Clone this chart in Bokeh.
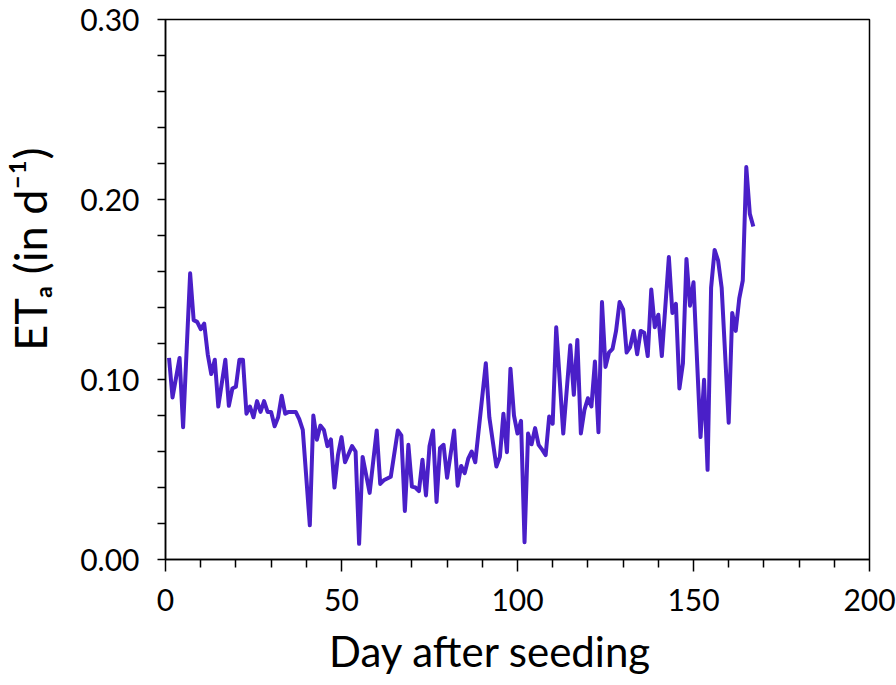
from bokeh.plotting import figure
from bokeh.models import Range1d, FixedTicker, PrintfTickFormatter
from bokeh.embed import file_html
from bokeh.resources import INLINE

# Data
days = [1, 2, 4, 5, 7, 8, 9, 10, 11, 12, 13, 14, 15, 17, 18, 19, 20, 21, 22, 23,
        24, 25, 26, 27, 28, 29, 30, 31, 32, 33, 34, 35, 37, 38, 39, 41, 42, 43, 44, 45,
        46, 47, 48, 49, 50, 51, 53, 54, 55, 56, 58, 60, 61, 62, 64, 66, 67, 68, 69, 70,
        71, 72, 73, 74, 75, 76, 77, 78, 79, 80, 82, 83, 84, 85, 86, 87, 88, 91, 92, 94,
        95, 96, 97, 98, 99, 100, 101, 102, 103, 104, 105, 106, 107, 108, 109, 110, 111, 113, 115, 116,
        117, 118, 119, 120, 121, 122, 123, 124, 125, 126, 127, 128, 129, 130, 131, 132, 133, 134, 135, 136,
        137, 138, 139, 140, 141, 143, 144, 145, 146, 147, 148, 149, 150, 152, 153, 154, 155, 156, 157, 158,
        160, 161, 162, 163, 164, 165, 166, 167]
eta = [0.112, 0.090, 0.112, 0.0735, 0.159, 0.133, 0.132, 0.128, 0.131, 0.114, 0.103, 0.111, 0.085, 0.111, 0.0854, 0.095, 0.096, 0.111, 0.111, 0.081,
       0.085, 0.079, 0.088, 0.082, 0.088, 0.082, 0.082, 0.074, 0.079, 0.091, 0.081, 0.082, 0.082, 0.078, 0.072, 0.019, 0.080, 0.0665, 0.0744, 0.072,
       0.063, 0.0667, 0.040, 0.058, 0.068, 0.054, 0.063, 0.060, 0.0087, 0.057, 0.037, 0.0717, 0.042, 0.044, 0.046, 0.0717, 0.069, 0.027, 0.0637, 0.0405,
       0.040, 0.038, 0.0554, 0.0356, 0.063, 0.0717, 0.032, 0.062, 0.0637, 0.0454, 0.0717, 0.041, 0.052, 0.048, 0.056, 0.060, 0.054, 0.109, 0.079, 0.0517,
       0.057, 0.081, 0.0596, 0.106, 0.080, 0.070, 0.077, 0.0096, 0.070, 0.064, 0.073, 0.0637, 0.061, 0.058, 0.0794, 0.0754, 0.129, 0.070, 0.119, 0.0915,
       0.122, 0.070, 0.083, 0.0896, 0.085, 0.110, 0.0707, 0.143, 0.107, 0.115, 0.117, 0.127, 0.143, 0.139, 0.115, 0.118, 0.127, 0.114, 0.127, 0.126,
       0.113, 0.150, 0.129, 0.136, 0.113, 0.168, 0.137, 0.142, 0.095, 0.109, 0.167, 0.141, 0.154, 0.068, 0.0998, 0.0498, 0.151, 0.172, 0.166, 0.151,
       0.076, 0.137, 0.127, 0.145, 0.155, 0.218, 0.192, 0.185]

x_ticks = [0, 50, 100, 150, 200]
x_minor = [10, 20, 30, 40, 60, 70, 80, 90, 110, 120, 130, 140, 160, 170, 180, 190]
y_ticks = [0.0, 0.1, 0.2, 0.3]
y_minor = [0.02, 0.04, 0.06, 0.08, 0.12, 0.14, 0.16, 0.18, 0.22, 0.24, 0.26, 0.28]
x_title = "Day after seeding"
y_title = "ET\u2090 (in d\u207b\u00b9)"

FONT = "Lato"
NB = "\u00a0"

p = figure(width=896, height=685, output_backend="svg", toolbar_location=None,
           x_range=Range1d(0, 200), y_range=Range1d(0, 0.3),
           min_border_left=164, min_border_right=27, min_border_top=19, min_border_bottom=126)
p.background_fill_color = "white"
p.border_fill_color = "white"
p.outline_line_color = "black"
p.outline_line_width = 1.5
p.grid.visible = False

p.line(days, eta, line_color="#4A1FC8", line_width=4, line_join="round")

# X axis
xa = p.xaxis[0]
xa.ticker = FixedTicker(ticks=x_ticks, minor_ticks=x_minor)
xa.axis_line_color = "black"
xa.axis_line_width = 1.5
xa.major_tick_line_width = 1.5
xa.minor_tick_line_width = 1.5
xa.major_tick_in = 0
xa.major_tick_out = 12
xa.minor_tick_in = 0
xa.minor_tick_out = 8
xa.major_label_text_font = FONT
xa.major_label_text_font_size = "30px"
xa.major_label_text_color = "black"
xa.major_label_standoff = 17
# trailing no-break spaces shift the centred title slightly left, as in the reference
xa.axis_label = x_title + NB * 5
xa.axis_label_text_font = FONT
xa.axis_label_text_font_size = "42px"
xa.axis_label_text_font_style = "normal"
xa.axis_label_text_color = "black"
xa.axis_label_standoff = 12

# Y axis
ya = p.yaxis[0]
ya.ticker = FixedTicker(ticks=y_ticks, minor_ticks=y_minor)
ya.formatter = PrintfTickFormatter(format="%.2f")
ya.axis_line_color = "black"
ya.axis_line_width = 1.5
ya.major_tick_line_width = 1.5
ya.minor_tick_line_width = 1.5
ya.major_tick_in = 0
ya.major_tick_out = 8
ya.minor_tick_in = 0
ya.minor_tick_out = 8
ya.major_label_text_font = FONT
ya.major_label_text_font_size = "30px"
ya.major_label_text_color = "black"
ya.major_label_standoff = 18
# leading no-break spaces shift the centred title upward, as in the reference
ya.axis_label = NB * 7 + y_title
ya.axis_label_text_font = FONT
ya.axis_label_text_font_size = "45px"
ya.axis_label_text_font_style = "normal"
ya.axis_label_text_color = "black"
ya.axis_label_standoff = 20

open("out.html", "w").write(file_html(p, INLINE))
